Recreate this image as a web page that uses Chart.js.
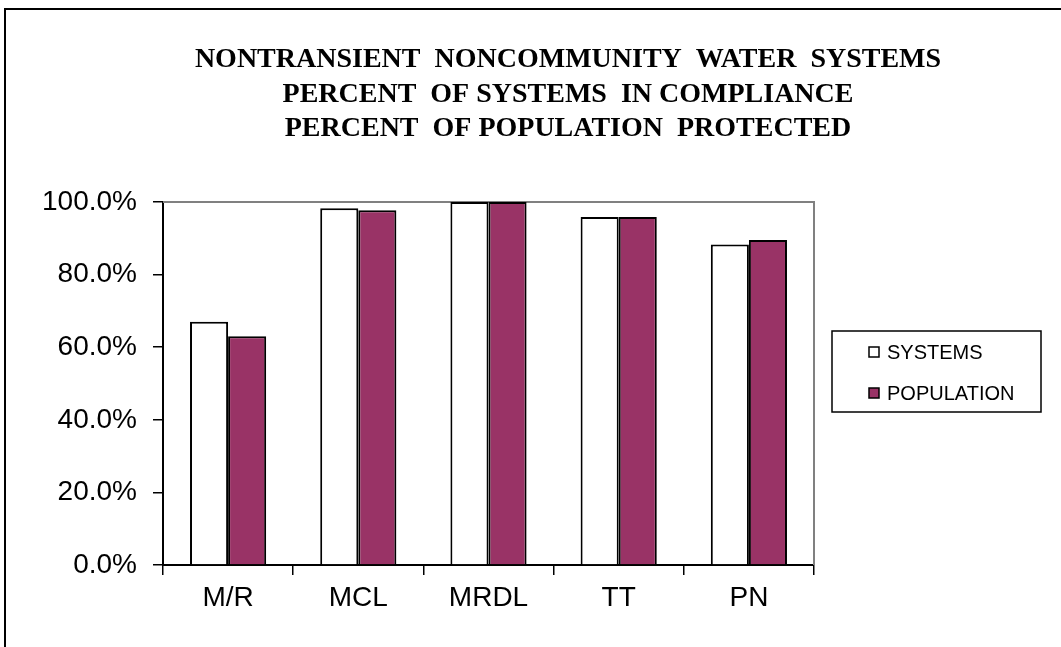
<!DOCTYPE html>
<html>
<head>
<meta charset="utf-8">
<script src="https://cdn.jsdelivr.net/npm/chart.js@4.4.1/dist/chart.umd.min.js"></script>
<style>
  html, body { margin: 0; padding: 0; background: #fff; overflow: hidden; }
  #wrap { width: 1061px; height: 647px; position: relative; }
</style>
</head>
<body>
<div id="wrap"><canvas id="chart"></canvas></div>
<script>
// data
const categories = ['M/R', 'MCL', 'MRDL', 'TT', 'PN'];
const systemsPct    = [0.670, 0.983, 1.000, 0.959, 0.883];
const populationPct = [0.630, 0.977, 1.000, 0.959, 0.895];
const titleLines = [
  'NONTRANSIENT  NONCOMMUNITY  WATER  SYSTEMS',
  'PERCENT  OF SYSTEMS  IN COMPLIANCE',
  'PERCENT  OF POPULATION  PROTECTED'
];

const SANS = '"Liberation Sans", Arial, sans-serif';
const SERIF = '"Liberation Serif", "Times New Roman", serif';

// frame, title, plot border and legend box
const decor = {
  id: 'decor',
  beforeDraw(chart) {
    const c = chart.ctx;
    c.save();
    c.strokeStyle = '#000';
    c.lineWidth = 2;
    c.beginPath();
    c.moveTo(5, 647);
    c.lineTo(5, 9);
    c.lineTo(1061, 9);
    c.stroke();
    c.restore();
  },
  beforeDatasetsDraw(chart) {
    const { top, right, left, bottom } = chart.chartArea;
    const c = chart.ctx;
    c.save();
    c.strokeStyle = '#808080';
    c.lineWidth = 2;
    c.beginPath();
    c.moveTo(left, top);
    c.lineTo(right, top);
    c.lineTo(right, bottom);
    c.stroke();
    c.restore();
  },
  afterDraw(chart) {
    const c = chart.ctx;
    c.save();
    // title
    c.fillStyle = '#000';
    c.font = 'bold 28px ' + SERIF;
    c.textAlign = 'center';
    c.textBaseline = 'middle';
    titleLines.forEach((t, i) => c.fillText(t, 568, 60 + i * 34.5));

    // legend
    c.strokeStyle = '#000';
    c.lineWidth = 1.5;
    c.strokeRect(832, 331, 209, 81);
    c.font = '20px ' + SANS;
    c.textAlign = 'left';
    chart.data.datasets.forEach((ds, i) => {
      const y = 352 + i * 41;
      c.fillStyle = ds.backgroundColor;
      c.fillRect(869, y - 5, 10, 10);
      c.lineWidth = 1.5;
      c.strokeRect(869, y - 5, 10, 10);
      c.fillStyle = '#000';
      c.fillText(ds.label, 887, y + 1);
    });
    c.restore();
  }
};

new Chart(document.getElementById('chart'), {
  type: 'bar',
  data: {
    labels: categories,
    datasets: [
      { label: 'SYSTEMS', data: systemsPct, backgroundColor: '#ffffff',
        borderColor: '#000', borderWidth: 2, borderSkipped: 'bottom' },
      { label: 'POPULATION', data: populationPct, backgroundColor: '#993366',
        borderColor: '#000', borderWidth: 2, borderSkipped: 'bottom' }
    ]
  },
  options: {
    responsive: true,
    maintainAspectRatio: false,
    animation: false,
    datasets: { bar: { categoryPercentage: 0.585, barPercentage: 1.0 } },
    layout: { padding: { top: 202, right: 247, bottom: 0, left: 0 } },
    plugins: {
      legend: { display: false },
      title: { display: false },
      tooltip: { enabled: false }
    },
    scales: {
      x: {
        afterFit: s => { s.height = 82; },
        grid: { display: true, drawOnChartArea: false, tickLength: 10, color: '#000', lineWidth: 1.5 },
        border: { display: true, color: '#000', width: 2 },
        ticks: { color: '#000', padding: 6, font: { family: SANS, size: 28 } }
      },
      y: {
        min: 0,
        max: 1,
        afterFit: s => { s.width = 163; },
        grid: { display: true, drawOnChartArea: false, tickLength: 10, color: '#000', lineWidth: 1.5 },
        border: { display: true, color: '#000', width: 2 },
        ticks: {
          stepSize: 0.2,
          color: '#000',
          padding: 16,
          font: { family: SANS, size: 28 },
          callback: v => (v * 100).toFixed(1) + '%'
        }
      }
    }
  },
  plugins: [decor]
});
</script>
</body>
</html>
